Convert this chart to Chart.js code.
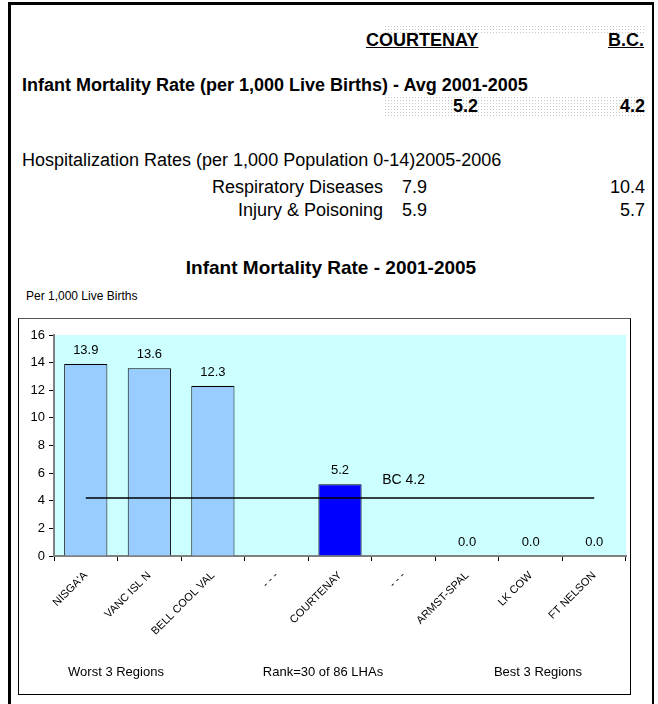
<!DOCTYPE html>
<html>
<head>
<meta charset="utf-8">
<script src="https://cdn.jsdelivr.net/npm/chart.js@4/dist/chart.umd.min.js"></script>
<style>
  html, body { margin: 0; padding: 0; background: #fff; }
  body { width: 658px; height: 704px; position: relative; overflow: hidden;
         font-family: "Liberation Sans", Arial, sans-serif; color: #000; }
  .frame { position: absolute; left: 8px; top: 2px; width: 641px; height: 720px;
           border-left: 3px solid #000; border-top: 3px solid #000; border-right: 2px solid #000; }
  .t { position: absolute; white-space: nowrap; line-height: 1; }
  .b { font-weight: bold; font-size: 18px; }
  .n { font-size: 18px; }
  .r { text-align: right; }
  .u { text-decoration: underline; }
  .dots { position: absolute;
          background-image: radial-gradient(#c8c8c8 0.6px, transparent 0.8px);
          background-size: 3px 3px; }
  .box { position: absolute; left: 18px; top: 318px; width: 611px; height: 375px;
         border: 1px solid #000; border-top-color: #555; }
  .box canvas { position: absolute; left: 0; top: 0; }
</style>
</head>
<body>
<div class="frame"></div>
<div class="dots" style="left:384px;top:25px;width:262px;height:8px"></div>
<div class="dots" style="left:384px;top:96px;width:262px;height:22px"></div>

<div class="t b u" style="left:366px;top:31px">COURTENAY</div>
<div class="t b u r" style="right:14px;top:31px">B.C.</div>
<div class="t b" style="left:22px;top:76px">Infant Mortality Rate (per 1,000 Live Births) - Avg 2001-2005</div>
<div class="t b r" style="right:180px;top:97px">5.2</div>
<div class="t b r" style="right:13px;top:97px">4.2</div>

<div class="t n" style="left:22px;top:151px">Hospitalization Rates (per 1,000 Population 0-14)2005-2006</div>
<div class="t n r" style="right:275px;top:178px">Respiratory Diseases</div>
<div class="t n" style="left:402px;top:178px">7.9</div>
<div class="t n r" style="right:13px;top:178px">10.4</div>
<div class="t n r" style="right:275px;top:201px">Injury &amp; Poisoning</div>
<div class="t n" style="left:402px;top:201px">5.9</div>
<div class="t n r" style="right:13px;top:201px">5.7</div>

<div class="t" style="left:0;width:662px;text-align:center;top:258px;font-weight:bold;font-size:19px">Infant Mortality Rate - 2001-2005</div>
<div class="t" style="left:26px;top:290px;font-size:12px">Per 1,000 Live Births</div>

<div class="box"><canvas id="chart-imr" width="611" height="375"></canvas></div>

<script>
'use strict';

// regions, worst 3 / Courtenay / best 3
const regions = ["NISGA'A", 'VANC ISL N', 'BELL COOL VAL', '- - -', 'COURTENAY', '- - -', 'ARMST-SPAL', 'LK COW', 'FT NELSON'];
const rates = [13.9, 13.6, 12.3, null, 5.2, null, 0.0, 0.0, 0.0];
const bcLine = [4.2, 4.2, 4.2, 4.2, 4.2, 4.2, 4.2, 4.2, 4.2];
const barColors = ['#99CCFF', '#99CCFF', '#99CCFF', '#99CCFF', '#0000FF', '#99CCFF', '#99CCFF', '#99CCFF', '#99CCFF'];
const yTicks = [0, 2, 4, 6, 8, 10, 12, 14, 16];
const footNotes = ['Worst 3 Regions', 'Rank=30 of 86 LHAs', 'Best 3 Regions'];

const FONT = '"Liberation Sans", Arial, sans-serif';
Chart.defaults.font.family = FONT;
Chart.defaults.color = '#000';

const canvas = document.getElementById('chart-imr');

/**
 * Cyan plot background, value labels, BC label and the three notes below
 */
const decorPlugin = {
    id: 'decor',
    beforeDraw(chart) {
        const {ctx, chartArea: a} = chart;
        ctx.save();
        ctx.fillStyle = '#CCFFFF';
        ctx.fillRect(a.left, a.top, a.right - a.left, a.bottom - a.top);
        ctx.restore();
    },
    afterDatasetsDraw(chart) {
        const ctx = chart.ctx;
        ctx.save();
        ctx.fillStyle = '#000';
        ctx.textAlign = 'center';
        ctx.textBaseline = 'middle';
        ctx.font = '13px ' + FONT;
        chart.getDatasetMeta(0).data.forEach((bar, i) => {
            if (rates[i] === null) return;
            ctx.fillText(rates[i].toFixed(1), bar.x, bar.y - 14);
        });
        const pt = chart.getDatasetMeta(1).data[5];
        ctx.font = '14px ' + FONT;
        ctx.fillText('BC ' + bcLine[5].toFixed(1), pt.x, pt.y - 18);

        // notes under the axis, centred under each group
        const noteX = [97, 304, 519];
        ctx.font = '13px ' + FONT;
        footNotes.forEach((txt, i) => {
            ctx.fillText(txt, noteX[i], 353);
        });
        ctx.restore();
    }
};

(function initChart() {
    new Chart(canvas.getContext('2d'), {
        type: 'bar',
        data: {
            labels: regions,
            datasets: [{
                data: rates,
                backgroundColor: barColors,
                borderColor: '#000',
                borderWidth: 1,
                barPercentage: 0.68,
                categoryPercentage: 1,
                order: 2
            }, {
                type: 'line',
                data: bcLine,
                borderColor: '#000',
                borderWidth: 1.5,
                pointRadius: 0,
                fill: false,
                order: 1
            }]
        },
        options: {
            responsive: false,
            animation: false,
            layout: {padding: {top: 16, right: 4, left: 0, bottom: 0}},
            plugins: {legend: {display: false}, tooltip: {enabled: false}},
            scales: {
                x: {
                    afterFit(s) { s.height = 138; },
                    border: {color: '#808080', width: 2},
                    grid: {drawOnChartArea: false, drawTicks: true, tickLength: 5, color: '#000', offset: true},
                    ticks: {minRotation: 45, maxRotation: 45, padding: 8, font: {size: 11}, autoSkip: false}
                },
                y: {
                    min: 0,
                    max: 16,
                    afterFit(s) { s.width = 35; },
                    afterBuildTicks(s) { s.ticks = yTicks.map(v => ({value: v})); },
                    border: {color: '#808080', width: 2},
                    grid: {drawOnChartArea: false, drawTicks: true, tickLength: 5, color: '#000'},
                    ticks: {padding: 4, font: {size: 13}}
                }
            }
        },
        plugins: [decorPlugin]
    });
})();
</script>
</body>
</html>
